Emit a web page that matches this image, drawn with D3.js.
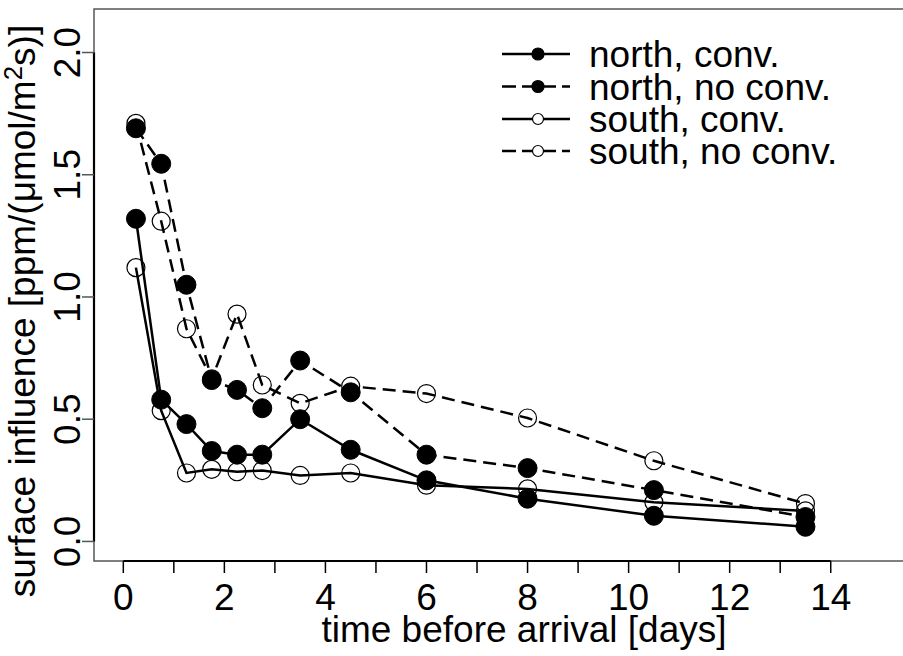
<!DOCTYPE html>
<html>
<head>
<meta charset="utf-8">
<script src="https://cdn.jsdelivr.net/npm/d3@7"></script>
<style>
  html, body { margin: 0; padding: 0; background: #fff; }
  svg { display: block; }
  text { font-family: "Liberation Sans", Arial, Helvetica, sans-serif; fill: #000; }
</style>
</head>
<body>
<svg id="chart" width="903" height="656"></svg>
<script>
// Travel time before arrival (days)
const days = [0.25, 0.75, 1.25, 1.75, 2.25, 2.75, 3.5, 4.5, 6, 8, 10.5, 13.5];

// Surface influence per trajectory group [ppm/(µmol/m²s)]
const northConv   = [1.32, 0.58, 0.48, 0.37, 0.355, 0.355, 0.50, 0.375, 0.25, 0.175, 0.105, 0.06];
const northNoConv = [1.69, 1.545, 1.05, 0.66, 0.62, 0.545, 0.74, 0.61, 0.355, 0.30, 0.21, 0.10];
const southConv   = [1.12, 0.535, 0.28, 0.295, 0.285, 0.29, 0.27, 0.28, 0.23, 0.215, 0.16, 0.125];
const southNoConv = [1.71, 1.31, 0.87, 0.665, 0.93, 0.64, 0.565, 0.635, 0.605, 0.505, 0.33, 0.155];

const seriesNames = ["north, conv.", "north, no conv.", "south, conv.", "south, no conv."];
const xTicks = d3.range(0, 15, 1);
const xTickLabels = [0, 2, 4, 6, 8, 10, 12, 14];
const yTicks = [0, 0.5, 1, 1.5, 2];
const xTitle = "time before arrival [days]";

const series = [
  { name: seriesNames[0], values: northConv,   dashed: false, filled: true },
  { name: seriesNames[1], values: northNoConv, dashed: true,  filled: true },
  { name: seriesNames[2], values: southConv,   dashed: false, filled: false },
  { name: seriesNames[3], values: southNoConv, dashed: true,  filled: false }
];

const svg = d3.select("#chart");
const FONT = 37;
const DASH = "13,7";

// plot region (box) in pixels
const box = { left: 94, top: 9, right: 904, bottom: 561 };

const x = d3.scaleLinear().domain([-0.58, 15.45]).range([box.left, box.right]);
const y = d3.scaleLinear().domain([-0.08, 2.178]).range([box.bottom, box.top]);

// frame
svg.append("rect")
  .attr("x", box.left).attr("y", box.top)
  .attr("width", box.right - box.left).attr("height", box.bottom - box.top)
  .attr("fill", "none").attr("stroke", "#555").attr("stroke-width", 1.5);

// x axis
const xAxis = svg.append("g").attr("transform", `translate(0,${box.bottom})`);
xAxis.append("line")
  .attr("x1", x(0)).attr("x2", x(14))
  .attr("stroke", "#000").attr("stroke-width", 2.2);
xAxis.selectAll("line.tick").data(xTicks).join("line")
  .attr("class", "tick")
  .attr("x1", d => x(d)).attr("x2", d => x(d))
  .attr("y1", 0).attr("y2", 12)
  .attr("stroke", "#000").attr("stroke-width", 1.5);
xAxis.selectAll("text").data(xTickLabels).join("text")
  .attr("x", d => x(d)).attr("y", 49)
  .attr("text-anchor", "middle").attr("font-size", FONT)
  .text(d => d);

svg.append("text")
  .attr("x", 524).attr("y", 642)
  .attr("text-anchor", "middle").attr("font-size", FONT)
  .text(xTitle);

// y axis
const yAxis = svg.append("g").attr("transform", `translate(${box.left},0)`);
yAxis.append("line")
  .attr("y1", y(0)).attr("y2", y(2))
  .attr("stroke", "#000").attr("stroke-width", 2.2);
yAxis.selectAll("line.tick").data(yTicks).join("line")
  .attr("class", "tick")
  .attr("y1", d => y(d)).attr("y2", d => y(d))
  .attr("x1", 0).attr("x2", -12)
  .attr("stroke", "#555").attr("stroke-width", 1.5);
yAxis.selectAll("text").data(yTicks).join("text")
  .attr("transform", d => `translate(-14,${y(d)}) rotate(-90)`)
  .attr("text-anchor", "middle").attr("font-size", FONT)
  .text(d => d3.format(".1f")(d));

const yTitle = svg.append("text")
  .attr("transform", "translate(35,311) rotate(-90)")
  .attr("text-anchor", "middle").attr("font-size", FONT);
yTitle.append("tspan").text("surface influence [ppm/(\u03bcmol/m");
yTitle.append("tspan").attr("font-size", FONT * 0.7).attr("dy", -13).text("2");
yTitle.append("tspan").attr("dy", 13).text("s)]");

// series lines and points
const line = d3.line().x((d, i) => x(days[i])).y(d => y(d));

series.forEach(s => {
  svg.append("path")
    .datum(s.values)
    .attr("d", line)
    .attr("fill", "none").attr("stroke", "#000").attr("stroke-width", 2.5)
    .attr("stroke-dasharray", s.dashed ? DASH : null);
  svg.append("g").selectAll("circle").data(s.values).join("circle")
    .attr("cx", (d, i) => x(days[i])).attr("cy", d => y(d))
    .attr("r", s.filled ? 9.5 : 9)
    .attr("fill", s.filled ? "#000" : "none")
    .attr("stroke", "#000").attr("stroke-width", s.filled ? 1 : 1.2);
});

// legend
const legend = svg.append("g");
const rowY = [54, 86.5, 119, 151];
series.forEach((s, i) => {
  const g = legend.append("g").attr("transform", `translate(0,${rowY[i]})`);
  g.append("line")
    .attr("x1", 502).attr("x2", 570)
    .attr("stroke", "#000").attr("stroke-width", 2.5)
    .attr("stroke-dasharray", s.dashed ? "14,6" : null);
  g.append("circle")
    .attr("cx", 538).attr("cy", 0)
    .attr("r", s.filled ? 6 : 5.5)
    .attr("fill", s.filled ? "#000" : "#fff")
    .attr("stroke", "#000").attr("stroke-width", 1.2);
  g.append("text")
    .attr("x", 589).attr("y", 13)
    .attr("font-size", FONT)
    .text(s.name);
});
</script>
</body>
</html>
